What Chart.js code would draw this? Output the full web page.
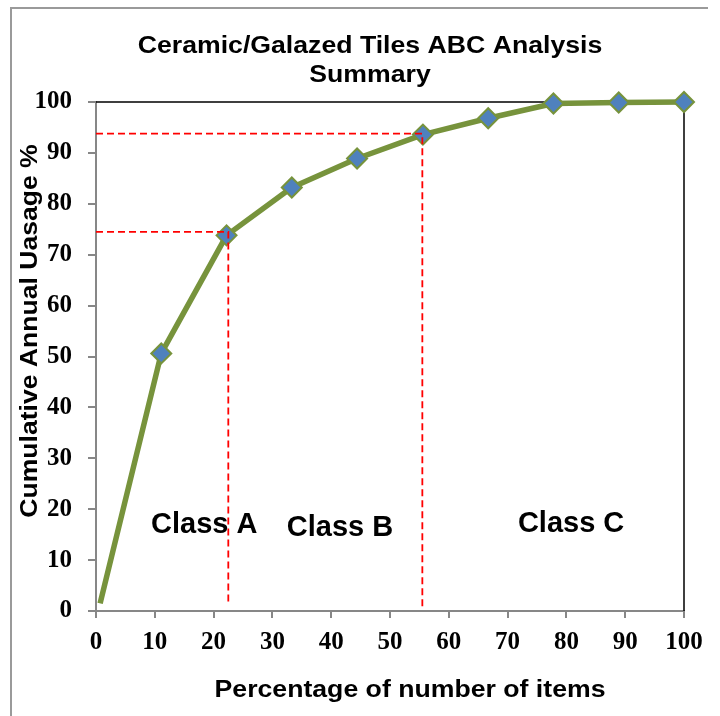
<!DOCTYPE html>
<html>
<head>
<meta charset="utf-8">
<script src="https://cdn.jsdelivr.net/npm/chart.js@4/dist/chart.umd.min.js"></script>
<style>
  html, body { margin: 0; padding: 0; background: #ffffff; }
  #wrap { position: relative; width: 720px; height: 716px; }
</style>
</head>
<body>
<div id="wrap"><canvas id="c" width="720" height="716"></canvas></div>
<script>
// ---- Data ----
const itemPercent = [0.7, 11.1, 22.2, 33.3, 44.4, 55.6, 66.7, 77.8, 88.9, 100];
const cumulativeUsage = [1.5, 50.6, 73.8, 83.2, 88.9, 93.6, 96.8, 99.7, 99.9, 100];
const classCutX = [22.5, 55.5];
const classCutY = [74.5, 93.8];
const classCutBottom = [1.6, 0.8];
const classNames = ['Class A', 'Class B', 'Class C'];
const classLabelX = [18.4, 41.5, 80.8];
const classLabelY = [16.8, 16.4, 17.0];
const titleLines = ['Ceramic/Galazed Tiles ABC Analysis', 'Summary'];
const xAxisTitle = 'Percentage of number of items';
const yAxisTitle = 'Cumulative Annual Uasage %';

const mainPoints = itemPercent.map((x, i) => ({ x: x, y: cumulativeUsage[i] }));
function cutLine(k) {
  return [
    { x: 0, y: classCutY[k] },
    { x: classCutX[k], y: classCutY[k] },
    { x: classCutX[k], y: classCutBottom[k] }
  ];
}

function stretchedText(ctx, text, x, y, sx, rot) {
  ctx.save();
  ctx.translate(x, y);
  if (rot) ctx.rotate(rot);
  ctx.scale(sx, 1);
  ctx.fillText(text, 0, 0);
  ctx.restore();
}

const decor = {
  id: 'decor',
  beforeDraw(chart) {
    const ctx = chart.ctx;
    ctx.save();
    ctx.fillStyle = '#ffffff';
    ctx.fillRect(0, 0, chart.width, chart.height);
    ctx.strokeStyle = '#9a9a9a';
    ctx.lineWidth = 2;
    ctx.beginPath();
    ctx.moveTo(11, 720);
    ctx.lineTo(11, 8);
    ctx.lineTo(708, 8);
    ctx.stroke();
    ctx.restore();
  },
  beforeDatasetsDraw(chart) {
    const ctx = chart.ctx;
    const a = chart.chartArea;
    ctx.save();
    ctx.strokeStyle = '#000000';
    ctx.lineWidth = 1.5;
    ctx.beginPath();
    ctx.moveTo(a.left, a.top);
    ctx.lineTo(a.right, a.top);
    ctx.lineTo(a.right, a.bottom);
    ctx.stroke();
    ctx.restore();
  },
  afterDatasetsDraw(chart) {
    const ctx = chart.ctx;
    const xs = chart.scales.x, ys = chart.scales.y;
    ctx.save();
    ctx.fillStyle = '#000000';
    ctx.textAlign = 'center';
    ctx.textBaseline = 'middle';
    ctx.font = 'bold 23.5px "Liberation Sans", Arial, sans-serif';
    stretchedText(ctx, titleLines[0], 370, 47, 1.134, 0);
    stretchedText(ctx, titleLines[1], 370, 75.5, 1.134, 0);
    stretchedText(ctx, xAxisTitle, 410, 691, 1.134, 0);
    stretchedText(ctx, yAxisTitle, 31, 331, 1.13, -Math.PI / 2);
    ctx.font = 'bold 29px "Liberation Sans", Arial, sans-serif';
    for (let i = 0; i < classNames.length; i++) {
      ctx.fillText(classNames[i], xs.getPixelForValue(classLabelX[i]), ys.getPixelForValue(classLabelY[i]));
    }
    ctx.restore();
  }
};

new Chart(document.getElementById('c'), {
  type: 'scatter',
  data: {
    datasets: [
      {
        label: 'Cut A',
        data: cutLine(0),
        showLine: true,
        borderColor: '#ff0000',
        borderWidth: 1.8,
        borderDash: [7, 4],
        pointRadius: 0,
        fill: false
      },
      {
        label: 'Cut B',
        data: cutLine(1),
        showLine: true,
        borderColor: '#ff0000',
        borderWidth: 1.8,
        borderDash: [7, 4],
        pointRadius: 0,
        fill: false
      },
      {
        label: 'Cumulative',
        data: mainPoints,
        showLine: true,
        clip: false,
        borderColor: '#77933c',
        borderWidth: 5.5,
        borderCapStyle: 'butt',
        borderJoinStyle: 'round',
        pointStyle: 'rectRot',
        pointRadius: (c) => (c.dataIndex === 0 ? 0 : 10),
        pointBackgroundColor: '#4f81bd',
        pointBorderColor: '#77933c',
        pointBorderWidth: 2,
        fill: false
      }
    ]
  },
  options: {
    responsive: false,
    animation: false,
    events: [],
    layout: { padding: { left: 0, right: 36, top: 102, bottom: 0 } },
    plugins: {
      legend: { display: false },
      title: { display: false },
      tooltip: { enabled: false }
    },
    scales: {
      x: {
        type: 'linear',
        min: 0, max: 100,
        afterFit(s) { s.height = 105; },
        border: { display: true, color: '#878787', width: 2 },
        grid: { drawOnChartArea: false, drawTicks: true, tickLength: 7, color: '#878787', lineWidth: 2 },
        ticks: {
          stepSize: 10,
          padding: 10,
          color: '#000000',
          font: { family: '"Liberation Serif", "Times New Roman", serif', size: 25, weight: 'bold' }
        }
      },
      y: {
        type: 'linear',
        min: 0, max: 100,
        afterFit(s) { s.width = 96; },
        border: { display: true, color: '#878787', width: 2 },
        grid: { drawOnChartArea: false, drawTicks: true, tickLength: 8, color: '#878787', lineWidth: 2 },
        ticks: {
          stepSize: 10,
          padding: 16,
          color: '#000000',
          font: { family: '"Liberation Serif", "Times New Roman", serif', size: 25, weight: 'bold' }
        }
      }
    }
  },
  plugins: [decor]
});
</script>
</body>
</html>
